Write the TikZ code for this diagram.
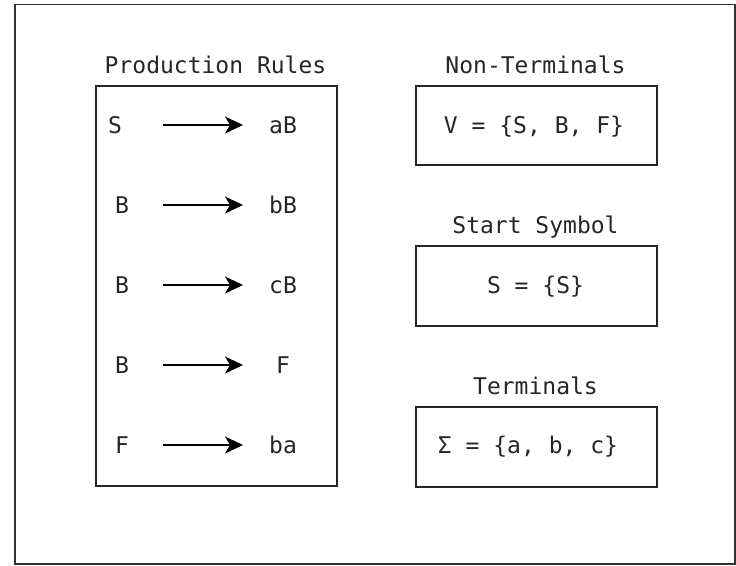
\documentclass[tikz,border=0pt]{standalone}
\usepackage{fontspec}
\setmonofont{DejaVu Sans Mono}
\usetikzlibrary{arrows.meta}
\tikzset{
  lbl/.style={font=\ttfamily\fontsize{23}{26}\selectfont, inner sep=0pt, anchor=base, text=black!85},
  boxframe/.style={draw=black!85, line width=1.8pt},
  rulearrow/.style={draw=black, line width=1.7pt, -{Stealth[length=18pt,width=17pt,inset=5pt]}},
}
\begin{document}
\begin{tikzpicture}[x=1pt,y=-1pt]
\useasboundingbox (0,0) rectangle (736,565);
\draw[draw=black!80, line width=1.3pt] (15,4.5) rectangle (735,564) node[pos=0, inner sep=0] (frame) {};
% boxes
\node[boxframe, minimum width=241pt, minimum height=400pt, inner sep=0, anchor=north west] (prod) at (95,85) {};
\node[boxframe, minimum width=241pt, minimum height=79pt, inner sep=0, anchor=north west] (nt) at (415,85) {};
\node[boxframe, minimum width=241pt, minimum height=80pt, inner sep=0, anchor=north west] (ss) at (415,245) {};
\node[boxframe, minimum width=241pt, minimum height=80pt, inner sep=0, anchor=north west] (tm) at (415,406) {};
% titles
\node[lbl] (tprod) at (215.5,73.5) {Production Rules};
\node[lbl] (tnt) at (535.5,73.5) {Non-Terminals};
\node[lbl] (tss) at (535.5,233.5) {Start Symbol};
\node[lbl] (ttm) at (535.5,394.5) {Terminals};
% set contents
\node[lbl] (vset) at (534,133.5) {V = \{S, B, F\}};
\node[lbl] (sset) at (535.5,293.5) {S = \{S\}};
\node[lbl] (tset) at (528,453.5) {Σ = \{a, b, c\}};
% rules
\node[lbl] (l1) at (115,133.5) {S};
\node[lbl] (r1) at (283,133.5) {aB};
\node[lbl] (l2) at (122,213.5) {B};
\node[lbl] (r2) at (283,213.5) {bB};
\node[lbl] (l3) at (122,293.5) {B};
\node[lbl] (r3) at (283,293.5) {cB};
\node[lbl] (l4) at (122,373.5) {B};
\node[lbl] (r4) at (283,373.5) {F};
\node[lbl] (l5) at (122,453.5) {F};
\node[lbl] (r5) at (283,453.5) {ba};
\foreach \i/\y in {1/125,2/205,3/285,4/365,5/445}{
  \coordinate (a\i) at (163,\y);
  \coordinate (b\i) at (243,\y);
  \draw[rulearrow] (a\i) -- (b\i);
}
\end{tikzpicture}
\end{document}
